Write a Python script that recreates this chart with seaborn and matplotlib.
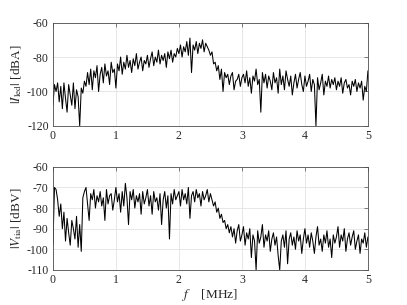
import numpy as np
import pandas as pd
import matplotlib
matplotlib.use("Agg")
import matplotlib.pyplot as plt
import seaborn as sns

freq = [round(i * 0.025, 3) for i in range(201)]

i_led = [
    -108, -96, -100, -95, -106, -97, -110, -95, -104, -112, -96, -102, -108, -95, -110, -99, -103, -120, -98, -101,
    -94, -97, -89, -96, -87, -99, -88, -92, -85, -100, -90, -86, -95, -84, -91, -88, -96, -83, -89, -87,
    -98, -84, -88, -80, -90, -83, -87, -79, -86, -82, -89, -81, -85, -78, -87, -83, -80, -88, -82, -84,
    -79, -86, -81, -77, -85, -80, -83, -76, -84, -79, -82, -78, -86, -77, -81, -76, -83, -78, -80, -75,
    -78, -73, -80, -74, -77, -71, -79, -69, -89, -73, -76, -71, -78, -72, -75, -70, -77, -72, -74, -76,
    -79, -77, -84, -83, -88, -85, -93, -87, -100, -89, -92, -90, -96, -91, -89, -99, -94, -93, -90, -97,
    -92, -90, -95, -88, -97, -92, -101, -91, -94, -87, -96, -93, -112, -89, -95, -90, -98, -91, -94, -99,
    -89, -95, -92, -101, -87, -96, -91, -99, -88, -93, -97, -91, -102, -95, -90, -98, -93, -89, -96, -100,
    -91, -97, -94, -90, -100, -93, -96, -120, -92, -99, -95, -90, -102, -94, -97, -91, -98, -93, -96, -92,
    -99, -94, -97, -92, -101, -95, -93, -98, -96, -102, -94, -97, -93, -100, -95, -98, -94, -105, -97, -100, -88,
]

v_tia = [
    -98, -70, -71, -76, -84, -78, -90, -82, -96, -85, -92, -98, -86, -90, -95, -84, -99, -88, -101, -75,
    -72, -70, -78, -86, -73, -76, -71, -80, -74, -77, -72, -79, -75, -86, -71, -78, -74, -73, -81, -76,
    -70, -77, -73, -82, -72, -79, -68, -75, -88, -72, -76, -71, -80, -74, -77, -73, -83, -72, -78, -75,
    -71, -79, -74, -83, -72, -77, -75, -81, -73, -88, -76, -72, -80, -74, -95, -73, -78, -71, -76, -74,
    -72, -79, -71, -76, -73, -78, -70, -85, -74, -72, -77, -71, -75, -73, -79, -72, -76, -74, -71, -77,
    -73, -76, -79, -77, -82, -80, -85, -83, -87, -86, -90, -88, -92, -89, -94, -90, -97, -91, -88, -96,
    -93, -89, -98, -92, -95, -90, -104, -93, -96, -110, -91, -97, -94, -88, -99, -93, -96, -91, -101, -95,
    -92, -98, -94, -103, -110, -96, -93, -99, -91, -107, -95, -92, -98, -94, -100, -91, -96, -93, -102, -95,
    -90, -97, -93, -99, -92, -96, -102, -94, -89, -98, -95, -101, -93, -97, -91, -99, -95, -104, -93, -97,
    -94, -89, -99, -93, -96, -90, -101, -95, -92, -98, -94, -91, -100, -96, -93, -102, -95, -97, -92, -99, -94,
]

x_ticks = [0, 1, 2, 3, 4, 5]
top_yticks = [-60, -80, -100, -120]
bot_yticks = [-60, -70, -80, -90, -100, -110]

sns.set_style("white")
plt.rcParams["font.family"] = ["Liberation Serif", "DejaVu Serif"]
plt.rcParams["mathtext.fontset"] = "stix"
plt.rcParams["xtick.direction"] = "in"
plt.rcParams["ytick.direction"] = "in"

df = pd.DataFrame({"f": freq, "I": i_led, "V": v_tia})

fig = plt.figure(figsize=(4.07, 3.05), dpi=100)
ax1 = fig.add_axes([0.130, 0.587, 0.774, 0.339])
ax2 = fig.add_axes([0.130, 0.115, 0.774, 0.338])

tc = "#262626"
for ax, col, yt, lab in [(ax1, "I", top_yticks, r"$|I_{\rm led}|$ [dBA]"),
                         (ax2, "V", bot_yticks, r"$|V_{\rm tia}|$ [dBV]")]:
    sns.lineplot(data=df, x="f", y=col, ax=ax, color="black", linewidth=0.75)
    ax.set_xlim(0, 5)
    ax.set_ylim(min(yt), max(yt))
    ax.set_xticks(x_ticks)
    ax.set_yticks(yt)
    ax.set_yticklabels([str(v) for v in yt])
    ax.grid(True, color="#e3e3e3", linewidth=0.6)
    ax.set_axisbelow(True)
    for s in ax.spines.values():
        s.set_color("#4d4d4d")
        s.set_linewidth(0.6)
    ax.tick_params(axis="both", which="both", top=True, right=True, length=3,
                   width=0.5, color="#4d4d4d", labelsize=8.5, labelcolor=tc, pad=3)
    ax.set_ylabel(lab, fontsize=9.5, color=tc, labelpad=2)
    ax.set_xlabel("")

ax2.set_xlabel(r"$f$    [MHz]", fontsize=9.5, color=tc, labelpad=1)

fig.savefig("out.png", dpi=100)
